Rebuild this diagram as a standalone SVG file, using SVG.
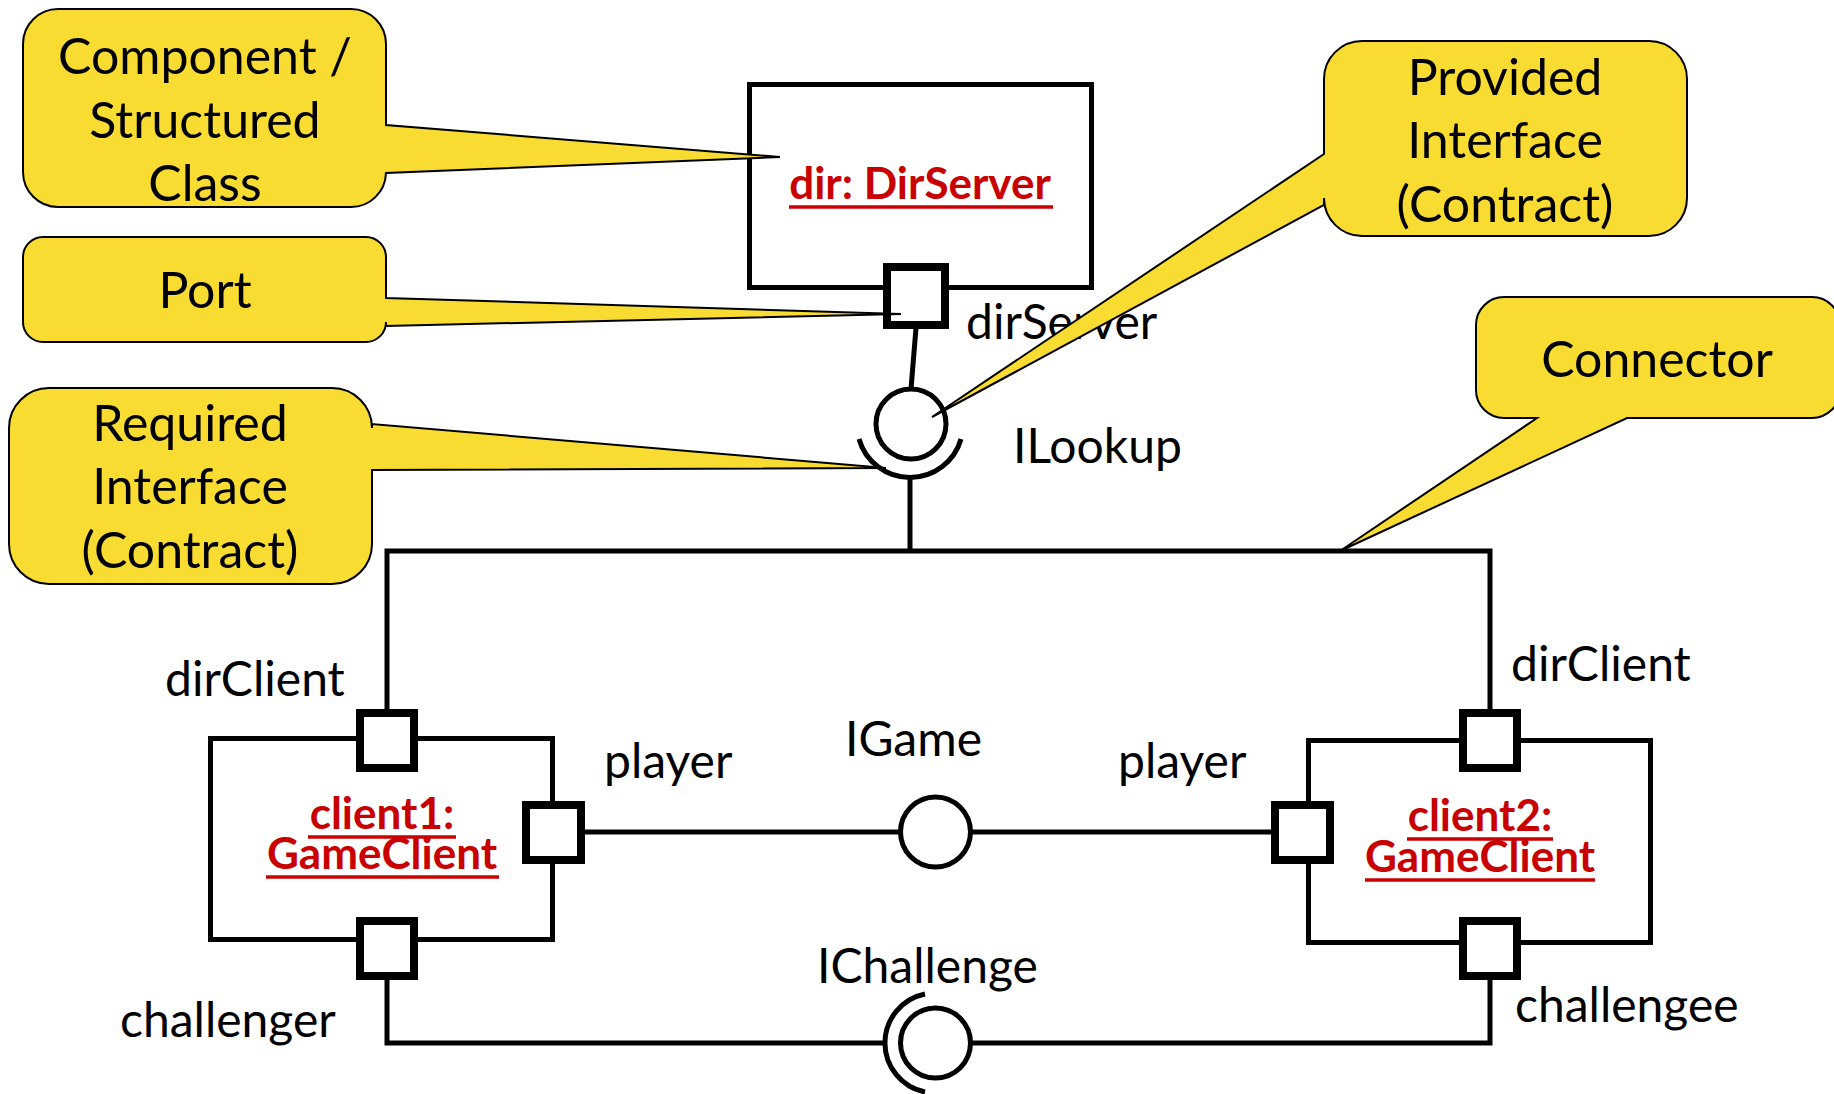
<svg xmlns="http://www.w3.org/2000/svg" width="1834" height="1094" viewBox="0 0 1834 1094">
  <style>
    .box { fill: #ffffff; stroke: #000000; stroke-width: 5; }
    .port { fill: #ffffff; stroke: #000000; stroke-width: 8; }
    .conn { fill: none; stroke: #000000; stroke-width: 5; }
    .iface { fill: #ffffff; stroke: #000000; stroke-width: 5; }
    .callout { fill: #F8DC31; stroke: #000000; stroke-width: 2; stroke-linejoin: miter; }
    .lbl { font-family: Lato, "Liberation Sans", sans-serif; font-size: 48px; fill: #000000; }
    .note { font-family: Lato, "Liberation Sans", sans-serif; font-size: 50px; fill: #000000; text-anchor: middle; }
    .name { font-family: Lato, "Liberation Sans", sans-serif; font-size: 44px; font-weight: bold; fill: #C80000; text-anchor: middle; }
    .ul { stroke: #C80000; stroke-width: 3.5; }
  </style>
  <rect width="1834" height="1094" fill="#ffffff"/>

  <g id="connectors">
    <line class="conn" x1="916" y1="328" x2="911" y2="389"/>
    <polyline class="conn" points="910,479 910,551"/>
    <polyline class="conn" points="387,709 387,551 1490,551 1490,709"/>
    <line class="conn" x1="585" y1="832" x2="900" y2="832"/>
    <line class="conn" x1="971" y1="832" x2="1271" y2="832"/>
    <polyline class="conn" points="387,979 387,1043 885,1043"/>
    <polyline class="conn" points="971,1043 1490,1043 1490,979"/>
  </g>

  <g id="dir">
    <rect class="box" x="749.5" y="84.5" width="342" height="203"/>
    <text class="name" x="920" y="199">dir: DirServer</text>
    <line class="ul" x1="789" y1="207" x2="1053" y2="207"/>
  </g>
  <g id="port-dirServer">
    <rect class="port" x="887" y="267" width="58" height="58"/>
    <text class="lbl" x="966" y="339">dirServer</text>
  </g>
  <g id="iface-ILookup">
    <circle class="iface" cx="911" cy="424" r="35"/>
    <path class="conn" d="M 859,439 A 53 53 0 0 0 961,439"/>
    <text class="lbl" x="1013" y="463">ILookup</text>
  </g>

  <g id="client1">
    <rect class="box" x="210.5" y="738.5" width="342" height="201"/>
    <text class="name" x="382" y="829">client1:</text>
    <line class="ul" x1="308" y1="837" x2="456" y2="837"/>
    <text class="name" x="382" y="869">GameClient</text>
    <line class="ul" x1="266" y1="877" x2="499" y2="877"/>
  </g>
  <g id="client1-dirClient">
    <rect class="port" x="360" y="713" width="54" height="55"/>
    <text class="lbl" x="165" y="696">dirClient</text>
  </g>
  <g id="client1-player">
    <rect class="port" x="526" y="805" width="55" height="55"/>
    <text class="lbl" x="604" y="778">player</text>
  </g>
  <g id="client1-challenger">
    <rect class="port" x="360" y="921" width="54" height="55"/>
    <text class="lbl" x="120" y="1037">challenger</text>
  </g>

  <g id="client2">
    <rect class="box" x="1308.5" y="740.5" width="342" height="202"/>
    <text class="name" x="1480" y="831">client2:</text>
    <line class="ul" x1="1407" y1="839" x2="1553" y2="839"/>
    <text class="name" x="1480" y="872">GameClient</text>
    <line class="ul" x1="1365" y1="880" x2="1595" y2="880"/>
  </g>
  <g id="client2-dirClient">
    <rect class="port" x="1463" y="713" width="54" height="55"/>
    <text class="lbl" x="1511" y="681">dirClient</text>
  </g>
  <g id="client2-player">
    <rect class="port" x="1275" y="805" width="55" height="55"/>
    <text class="lbl" x="1118" y="778">player</text>
  </g>
  <g id="client2-challengee">
    <rect class="port" x="1463" y="921" width="54" height="55"/>
    <text class="lbl" x="1515" y="1022">challengee</text>
  </g>

  <g id="iface-IGame">
    <circle class="iface" cx="935.5" cy="832" r="35"/>
    <text class="lbl" x="845" y="756">IGame</text>
  </g>
  <g id="iface-IChallenge">
    <circle class="iface" cx="935.5" cy="1043" r="35"/>
    <path class="conn" d="M 925,994 A 50 50 0 0 0 925,1092"/>
    <text class="lbl" x="817" y="983">IChallenge</text>
  </g>

  <g id="callout-component">
    <path class="callout" d="M 58,9 H 351 A 35 35 0 0 1 386,44 V 125 L 780,157 L 386,173 A 35 35 0 0 1 351,207 H 58 A 35 35 0 0 1 23,172 V 44 A 35 35 0 0 1 58,9 Z"/>
    <text class="note" x="205" y="74">Component /</text>
    <text class="note" x="205" y="138">Structured</text>
    <text class="note" x="205" y="201">Class</text>
  </g>
  <g id="callout-port">
    <path class="callout" d="M 43,237 H 366 A 20 20 0 0 1 386,257 V 298 L 901,314 L 386,326 V 322 A 20 20 0 0 1 366,342 H 43 A 20 20 0 0 1 23,322 V 257 A 20 20 0 0 1 43,237 Z"/>
    <text class="note" x="205" y="308">Port</text>
  </g>
  <g id="callout-required">
    <path class="callout" d="M 49,388 H 332 A 40 40 0 0 1 372,428 V 424 L 886,468 L 372,470 V 544 A 40 40 0 0 1 332,584 H 49 A 40 40 0 0 1 9,544 V 428 A 40 40 0 0 1 49,388 Z"/>
    <text class="note" x="190" y="441">Required</text>
    <text class="note" x="190" y="504">Interface</text>
    <text class="note" x="190" y="568">(Contract)</text>
  </g>
  <g id="callout-provided">
    <path class="callout" d="M 1362,41 H 1649 A 38 38 0 0 1 1687,79 V 198 A 38 38 0 0 1 1649,236 H 1362 A 38 38 0 0 1 1324,198 V 205 L 932,417 L 1324,154 V 79 A 38 38 0 0 1 1362,41 Z"/>
    <text class="note" x="1505" y="95">Provided</text>
    <text class="note" x="1505" y="158">Interface</text>
    <text class="note" x="1505" y="222">(Contract)</text>
  </g>
  <g id="callout-connector">
    <path class="callout" d="M 1504,297 H 1812 A 28 28 0 0 1 1840,325 V 390 A 28 28 0 0 1 1812,418 H 1627 L 1340,551 L 1537,418 H 1504 A 28 28 0 0 1 1476,390 V 325 A 28 28 0 0 1 1504,297 Z"/>
    <text class="note" x="1657" y="377">Connector</text>
  </g>
</svg>
